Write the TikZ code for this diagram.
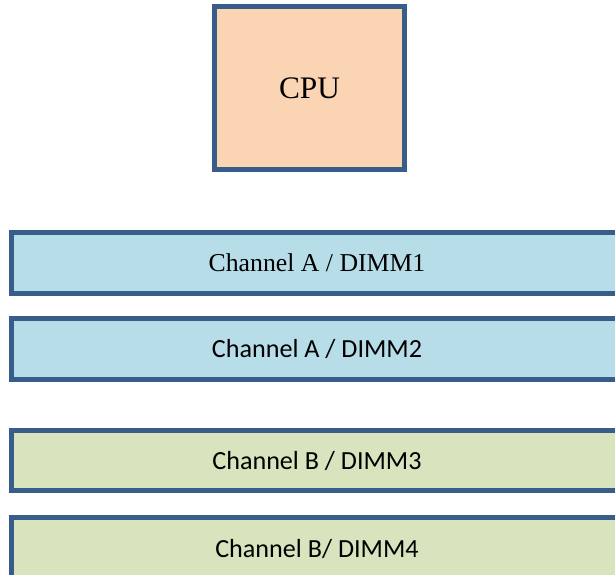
\documentclass[tikz,border=0pt]{standalone}
\usepackage{fontspec}
\setmainfont{Liberation Serif}
\newfontfamily\calibrifont{Carlito}
\usepackage{tikz}
\usetikzlibrary{positioning}
\definecolor{boxborder}{RGB}{56, 93, 138}
\definecolor{cpufill}{RGB}{251, 212, 180}
\definecolor{chanafill}{RGB}{183, 221, 232}
\definecolor{chanbfill}{RGB}{215, 228, 189}

\begin{document}
\begin{tikzpicture}[
    x=0.75pt, y=-0.75pt,
    base/.style={rectangle, draw=boxborder, line width=3.75pt, inner sep=0pt, align=center},
    cpubox/.style={base, fill=cpufill, minimum width=142.5pt, minimum height=122.25pt, font=\fontsize{23.5}{28}\selectfont},
    dimm/.style={base, minimum width=458.25pt, minimum height=45.75pt},
    chana/.style={dimm, fill=chanafill},
    chanb/.style={dimm, fill=chanbfill, font=\calibrifont\fontsize{19.6}{23}\selectfont}
]
\clip (0,0) rectangle (615,575);

\node[cpubox] (cpu) at (309.5,88) {CPU};

% memory slots
\node[chana, font=\fontsize{19.3}{23}\selectfont] (dimm1) at (317,263) {Channel A / DIMM1};
\node[chana, font=\calibrifont\fontsize{19.6}{23}\selectfont] (dimm2) at (317,349) {Channel A / DIMM2};
\node[chanb, minimum height=45pt] (dimm3) at (317,460.5) {Channel B / DIMM3};
\node[chanb, minimum height=46.5pt] (dimm4) at (317,548.5) {Channel B/ DIMM4};

\end{tikzpicture}
\end{document}
